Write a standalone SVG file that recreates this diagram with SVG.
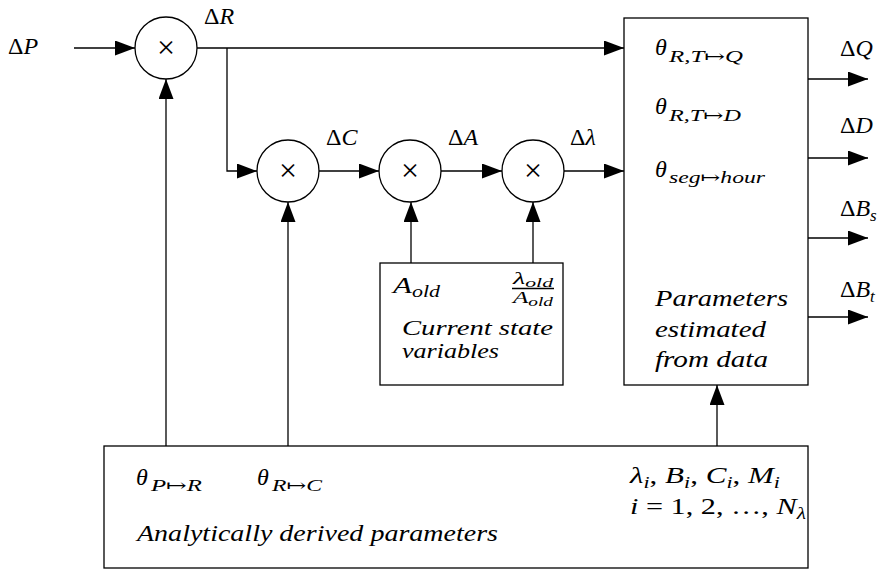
<svg xmlns="http://www.w3.org/2000/svg" width="895" height="571" viewBox="0 0 895 571">
<style>
text { font-family: "Liberation Serif", "Times New Roman", "DejaVu Serif", serif; font-size: 24px; fill: #000; }
.i { font-style: italic; }
.s { font-size: 17px; font-style: italic; }
.cs { font-size: 22px; font-style: italic; }
.f { font-size: 17px; font-style: italic; }
.fs { font-size: 13px; font-style: italic; }
.x { font-size: 32px; text-anchor: middle; }
.n { fill: #fff; stroke: #000; stroke-width: 1.3; }
.c { fill: none; stroke: #000; stroke-width: 1.3; }
</style>
<defs>
<marker id="ah" markerUnits="userSpaceOnUse" markerWidth="20" markerHeight="15" refX="20" refY="7.5" orient="auto">
<path d="M0,0 L20,7.5 L0,15 z" fill="#000"/>
</marker>
</defs>
<rect width="895" height="571" fill="#fff"/>
<g id="connectors">
<path class="c" d="M74,48 H135" marker-end="url(#ah)"/>
<path class="c" d="M197,48 H624" marker-end="url(#ah)"/>
<path class="c" d="M227,48 V171 H257" marker-end="url(#ah)"/>
<path class="c" d="M319,171 H379" marker-end="url(#ah)"/>
<path class="c" d="M441,171 H502" marker-end="url(#ah)"/>
<path class="c" d="M564,171 H624" marker-end="url(#ah)"/>
<path class="c" d="M166,446 V79" marker-end="url(#ah)"/>
<path class="c" d="M288,446 V202" marker-end="url(#ah)"/>
<path class="c" d="M411,263 V202" marker-end="url(#ah)"/>
<path class="c" d="M533,263 V202" marker-end="url(#ah)"/>
<path class="c" d="M717,446 V385" marker-end="url(#ah)"/>
<path class="c" d="M808,79 H868" marker-end="url(#ah)"/>
<path class="c" d="M808,158 H868" marker-end="url(#ah)"/>
<path class="c" d="M808,238 H868" marker-end="url(#ah)"/>
<path class="c" d="M808,317 H868" marker-end="url(#ah)"/>
</g>
<g id="labels">
<text x="8" y="54">Δ<tspan class="i">P</tspan></text>
<text x="204" y="24">Δ<tspan class="i">R</tspan></text>
<text x="326" y="145">Δ<tspan class="i">C</tspan></text>
<text x="448" y="145">Δ<tspan class="i">A</tspan></text>
<text x="570" y="145">Δ<tspan class="i">λ</tspan></text>
<text x="840" y="56">Δ<tspan class="i">Q</tspan></text>
<text x="840" y="133">Δ<tspan class="i">D</tspan></text>
<text x="840" y="216">Δ<tspan class="i">B</tspan><tspan class="s" dy="5">s</tspan></text>
<text x="840" y="297">Δ<tspan class="i">B</tspan><tspan class="s" dy="5">t</tspan></text>
</g>
<g id="mult1">
<circle class="n" cx="166" cy="48" r="31"/>
<text class="x" x="166" y="58">×</text>
</g>
<g id="mult2">
<circle class="n" cx="288" cy="171" r="31"/>
<text class="x" x="288" y="181">×</text>
</g>
<g id="mult3">
<circle class="n" cx="410" cy="171" r="31"/>
<text class="x" x="410" y="181">×</text>
</g>
<g id="mult4">
<circle class="n" cx="533" cy="171" r="31"/>
<text class="x" x="533" y="181">×</text>
</g>
<g id="state">
<rect class="n" x="380" y="263" width="183" height="122"/>
<text x="393" y="293" textLength="47" lengthAdjust="spacingAndGlyphs"><tspan class="i">A</tspan><tspan class="s" dy="4">old</tspan></text>
<text x="513" y="284" textLength="40" lengthAdjust="spacingAndGlyphs"><tspan class="f">λ</tspan><tspan class="fs" dy="3">old</tspan></text>
<line class="c" x1="512" y1="288.5" x2="554" y2="288.5" stroke-width="1"/>
<text x="513" y="303" textLength="40" lengthAdjust="spacingAndGlyphs"><tspan class="f">A</tspan><tspan class="fs" dy="3">old</tspan></text>
<text class="cs" x="402" y="335" textLength="151" lengthAdjust="spacingAndGlyphs">Current state</text>
<text class="cs" x="402" y="358" textLength="97" lengthAdjust="spacingAndGlyphs">variables</text>
</g>
<g id="estimated">
<rect class="n" x="624" y="18" width="184" height="367"/>
<text class="i" x="655" y="55">θ</text>
<text class="s" x="669" y="62" textLength="74" lengthAdjust="spacingAndGlyphs">R,T↦Q</text>
<text class="i" x="655" y="114">θ</text>
<text class="s" x="669" y="121" textLength="72" lengthAdjust="spacingAndGlyphs">R,T↦D</text>
<text class="i" x="655" y="177">θ</text>
<text class="s" x="669" y="183" textLength="96" lengthAdjust="spacingAndGlyphs">seg↦hour</text>
<text class="i" x="655" y="306" textLength="133" lengthAdjust="spacingAndGlyphs">Parameters</text>
<text class="i" x="655" y="337" textLength="111" lengthAdjust="spacingAndGlyphs">estimated</text>
<text class="i" x="655" y="367" textLength="113" lengthAdjust="spacingAndGlyphs">from data</text>
</g>
<g id="analytic">
<rect class="n" x="104" y="446" width="704" height="122"/>
<text class="i" x="136" y="485">θ</text>
<text class="s" x="151" y="491" textLength="51" lengthAdjust="spacingAndGlyphs">P↦R</text>
<text class="i" x="257" y="485">θ</text>
<text class="s" x="272" y="491" textLength="50" lengthAdjust="spacingAndGlyphs">R↦C</text>
<text class="i" x="137" y="541" textLength="361" lengthAdjust="spacingAndGlyphs">Analytically derived parameters</text>
<text x="630" y="483" textLength="150" lengthAdjust="spacingAndGlyphs"><tspan class="i">λ</tspan><tspan class="s" dy="5">i</tspan><tspan dy="-5">, </tspan><tspan class="i">B</tspan><tspan class="s" dy="5">i</tspan><tspan dy="-5">, </tspan><tspan class="i">C</tspan><tspan class="s" dy="5">i</tspan><tspan dy="-5">, </tspan><tspan class="i">M</tspan><tspan class="s" dy="5">i</tspan></text>
<text x="630" y="514" textLength="176" lengthAdjust="spacingAndGlyphs"><tspan class="i">i</tspan> = 1, 2, …, <tspan class="i">N</tspan><tspan class="s" dy="5">λ</tspan></text>
</g>
</svg>
